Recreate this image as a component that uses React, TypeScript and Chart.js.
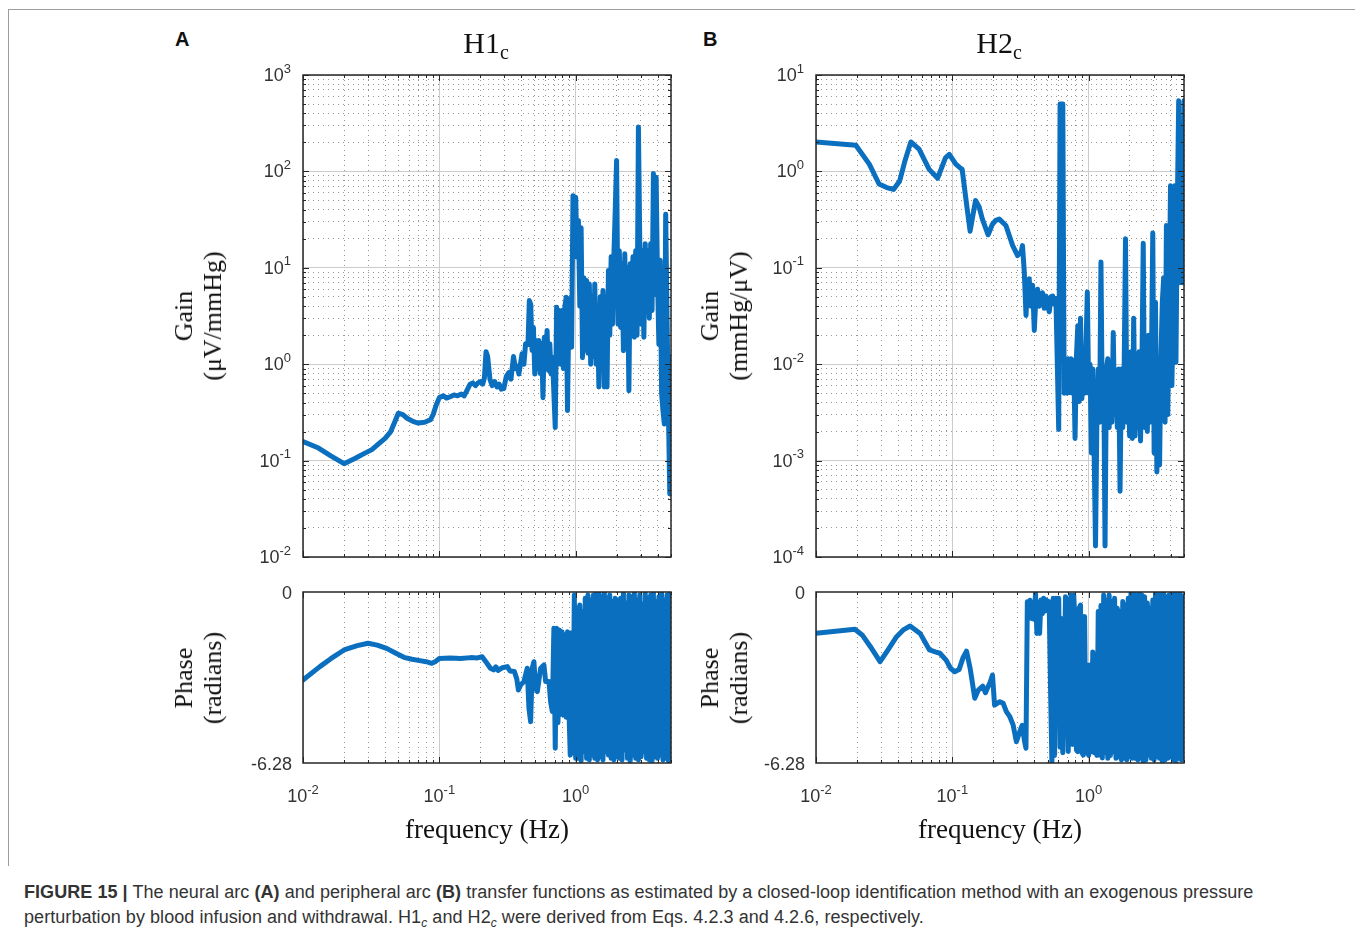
import React, { useEffect, useRef } from 'react';
import { Chart, registerables } from 'chart.js';

Chart.register(...registerables);

// ---------------- data ----------------
// Shared high-frequency grid (Hz) used by the noisy parts of all four curves
const freqGrid = [
  0.3467, 0.3548, 0.3631, 0.3715, 0.3802, 0.3890, 0.3981, 0.4074, 0.4169, 0.4266,
  0.4365, 0.4467, 0.4571, 0.4677, 0.4786, 0.4898, 0.5012, 0.5129, 0.5248, 0.5370,
  0.5495, 0.5623, 0.5754, 0.5888, 0.6026, 0.6166, 0.6310, 0.6457, 0.6607, 0.6761,
  0.6918, 0.7079, 0.7244, 0.7413, 0.7586, 0.7762, 0.7943, 0.8128, 0.8318, 0.8511,
  0.8710, 0.8913, 0.9120, 0.9333, 0.9550, 0.9772, 1.000, 1.023, 1.047, 1.072,
  1.096, 1.122, 1.148, 1.175, 1.202, 1.230, 1.259, 1.288, 1.318, 1.349,
  1.380, 1.413, 1.445, 1.479, 1.514, 1.549, 1.585, 1.622, 1.660, 1.698,
  1.738, 1.778, 1.820, 1.862, 1.905, 1.950, 1.995, 2.042, 2.089, 2.138,
  2.188, 2.239, 2.291, 2.344, 2.399, 2.455, 2.512, 2.570, 2.630, 2.692,
  2.754, 2.818, 2.884, 2.951, 3.020, 3.090, 3.162, 3.236, 3.311, 3.388,
  3.467, 3.548, 3.631, 3.715, 3.802, 3.890, 3.981, 4.074, 4.169, 4.266,
  4.365, 4.467, 4.571, 4.677, 4.786, 4.898, 5.000,
];

// Panel A, gain |H1c| (uV/mmHg): low-frequency part
const freqGainA = [
  0.010, 0.013, 0.016, 0.020, 0.024, 0.028, 0.032, 0.036, 0.040, 0.044,
  0.047, 0.050, 0.054, 0.058, 0.064, 0.070, 0.078, 0.086, 0.090, 0.095,
  0.100, 0.107, 0.113, 0.120, 0.128, 0.136, 0.145, 0.152, 0.160, 0.168,
  0.176, 0.184, 0.192, 0.200, 0.208, 0.214, 0.220, 0.226, 0.235, 0.244,
  0.255, 0.265, 0.275, 0.285, 0.297, 0.310, 0.323, 0.335, 0.350, 0.362,
  0.375, 0.383, 0.404, 0.417, 0.429,
];
const gainA = [
  0.158, 0.135, 0.112, 0.093, 0.105, 0.118, 0.130, 0.150, 0.170, 0.200,
  0.250, 0.310, 0.300, 0.275, 0.255, 0.245, 0.250, 0.265, 0.300, 0.380,
  0.450, 0.470, 0.445, 0.460, 0.480, 0.470, 0.490, 0.470, 0.540, 0.620,
  0.640, 0.600, 0.640, 0.660, 0.620, 0.720, 1.350, 1.200, 0.700, 0.600,
  0.660, 0.580, 0.620, 0.550, 0.560, 0.750, 0.820, 0.700, 1.200, 0.900,
  0.950, 0.790, 1.280, 1.000, 1.630,
];
// Panel A gain: noisy part on the last 106 grid frequencies (0.45 - 5 Hz)
const gainADense = [
  1.6, 4.57, 4.2, 1.39, 2.4, 0.79, 1.76, 0.9, 1.76, 0.8,
  1.63, 0.45, 1.9, 0.9, 2.24, 0.86, 1.63, 0.79, 1.18, 0.5,
  0.22, 3.9, 1.0, 3.6, 1.0, 3.6, 0.9, 3.9, 4.95, 0.33,
  4.2, 4.8, 1.5, 56, 13, 54, 12.9, 31, 4.0, 26,
  1.17, 7.9, 1.4, 7.4, 1.3, 6.8, 1.0, 5.0, 1.2, 6.8,
  1.0, 3.6, 0.58, 5.0, 1.0, 5.8, 0.58, 5.0, 0.58, 9.4,
  2.0, 13, 2.6, 13, 40, 130, 2.6, 15, 2.4, 11,
  1.38, 14, 1.8, 10, 0.53, 11, 2.4, 13, 1.9, 15,
  2.0, 288, 17.8, 2.6, 15, 1.9, 17.8, 3.6, 15, 3.0,
  17.8, 3.6, 95, 5.3, 87, 7.9, 1.6, 12, 0.5, 0.33,
  0.24, 36, 3.1, 0.33, 0.045, 1.2,
];

// Panel A, phase of H1c (radians): low-frequency part
const freqPhaseA = [
  0.010, 0.0133, 0.016, 0.020, 0.025, 0.030, 0.035, 0.041, 0.048, 0.055,
  0.063, 0.072, 0.080, 0.088, 0.094, 0.100, 0.120, 0.143, 0.170, 0.190,
  0.206, 0.222, 0.237, 0.250, 0.260, 0.270, 0.290, 0.315, 0.330, 0.355,
  0.370, 0.380, 0.394, 0.417, 0.441, 0.454, 0.467, 0.480, 0.494, 0.508,
  0.523, 0.553, 0.585, 0.602, 0.637, 0.655, 0.674,
];
const phaseA = [
  -3.23, -2.74, -2.45, -2.13, -1.97, -1.88, -1.95, -2.07, -2.25, -2.40,
  -2.47, -2.52, -2.56, -2.62, -2.55, -2.44, -2.42, -2.44, -2.41, -2.42,
  -2.38, -2.60, -2.80, -2.86, -2.75, -2.88, -2.78, -2.74, -2.90, -2.92,
  -3.20, -3.60, -3.42, -3.29, -2.80, -4.27, -4.76, -2.80, -2.56, -3.54,
  -3.66, -2.80, -2.68, -3.29, -3.29, -4.03, -4.39,
];
// Panel A phase: noisy part on the last 87 grid frequencies (0.69 - 5 Hz)
const phaseADense = [
  -1.33, -5.74, -1.33, -4.80, -1.40, -4.50, -1.46, -4.52, -1.58, -4.60,
  -1.46, -4.27, -5.99, -1.50, -5.90, -0.11, -6.11, -0.60, -6.11, -0.48,
  -6.20, -0.72, -5.87, -0.23, -6.11, -0.11, -6.17, -0.29, -5.99, -0.11,
  -6.11, -0.05, -6.17, -0.02, -6.05, -0.17, -6.17, -0.05, -5.87, -0.23,
  -5.99, -0.11, -6.11, -0.35, -6.17, -0.23, -6.05, -0.29, -6.11, -0.23,
  -6.17, -0.05, -5.80, -0.40, -6.11, -0.11, -6.23, -0.17, -5.99, -0.02,
  -6.11, -0.29, -6.17, -0.11, -6.05, -0.45, -5.87, -0.05, -6.11, -0.23,
  -6.17, -0.11, -6.23, -0.02, -6.05, -0.35, -6.11, -0.17, -5.99, -0.05,
  -6.17, -0.29, -6.11, -0.11, -6.20, -0.05, -2.60,
];

// Panel B, gain |H2c| (mmHg/uV): low-frequency part
const freqGainB = [
  0.010, 0.0196, 0.0246, 0.029, 0.033, 0.037, 0.041, 0.045, 0.0496, 0.057,
  0.0676, 0.078, 0.089, 0.095, 0.106, 0.113, 0.118, 0.129, 0.135, 0.148,
  0.157, 0.166, 0.183, 0.196, 0.208, 0.221, 0.247, 0.277, 0.301, 0.319,
  0.327, 0.337, 0.347, 0.356, 0.366, 0.377, 0.388, 0.399, 0.410, 0.422,
  0.434, 0.446, 0.458, 0.472, 0.486, 0.500, 0.514, 0.529, 0.544, 0.560,
  0.575,
];
const gainB = [
  2.02, 1.87, 1.19, 0.74, 0.68, 0.65, 0.79, 1.30, 2.02, 1.70,
  1.05, 0.85, 1.38, 1.50, 1.19, 1.10, 1.05, 0.39, 0.24, 0.50,
  0.43, 0.32, 0.22, 0.28, 0.31, 0.32, 0.275, 0.17, 0.134, 0.145,
  0.17, 0.09, 0.032, 0.07, 0.077, 0.04, 0.066, 0.0224, 0.05, 0.06,
  0.04, 0.044, 0.055, 0.038, 0.051, 0.04, 0.035, 0.05, 0.051, 0.042,
  0.048,
];
// Panel B gain: noisy part on the last 93 grid frequencies (0.60 - 5 Hz)
const gainBDense = [
  0.0021, 5.0, 5.0, 5.0, 0.005, 0.0114, 0.005, 0.0114, 0.0051, 0.0114,
  0.005, 0.011, 0.0017, 0.012, 0.025, 0.0041, 0.030, 0.0044, 0.012, 0.005,
  0.015, 0.056, 0.005, 0.010, 0.0012, 0.0089, 0.00123, 0.00013, 0.0025, 0.0089,
  0.0025, 0.115, 0.003, 0.0089, 0.00013, 0.0089, 0.0114, 0.0022, 0.0089, 0.0025,
  0.0213, 0.0030, 0.0083, 0.0022, 0.0089, 0.00048, 0.0089, 0.0022, 0.0089, 0.20,
  0.0025, 0.0089, 0.0018, 0.0135, 0.0017, 0.030, 0.0018, 0.0089, 0.0022, 0.0135,
  0.0016, 0.0089, 0.18, 0.0022, 0.0135, 0.0020, 0.02, 0.0025, 0.010, 0.23,
  0.0012, 0.044, 0.00076, 0.010, 0.0009, 0.012, 0.044, 0.079, 0.0025, 0.275,
  0.0030, 0.035, 0.71, 0.0060, 0.035, 0.71, 0.0105, 0.42, 5.4, 0.07,
  1.58, 0.07, 5.4,
];

// Panel B, phase of H2c (radians): low-frequency part
const freqPhaseB = [
  0.010, 0.0193, 0.022, 0.025, 0.0295, 0.033, 0.039, 0.044, 0.049, 0.058,
  0.068, 0.075, 0.081, 0.090, 0.097, 0.104, 0.112, 0.120, 0.127, 0.135,
  0.146, 0.155, 0.167, 0.175, 0.182, 0.190, 0.197, 0.204, 0.223, 0.236,
  0.249, 0.264, 0.279, 0.295, 0.312, 0.325, 0.339,
];
const phaseB = [
  -1.52, -1.37, -1.60, -2.00, -2.56, -2.20, -1.64, -1.38, -1.25, -1.52,
  -2.13, -2.20, -2.25, -2.50, -2.80, -2.93, -2.85, -2.40, -2.17, -2.80,
  -3.90, -3.60, -3.46, -3.70, -3.50, -3.30, -3.05, -4.15, -4.03, -4.09,
  -4.39, -4.58, -4.88, -5.50, -5.13, -4.90, -5.50,
];
// Panel B phase: noisy part on all 117 grid frequencies (0.35 - 5 Hz)
const phaseBDense = [
  -5.74, -0.36, -0.60, -0.30, -0.97, -0.40, -1.00, -0.05, -1.52, -0.40,
  -1.52, -0.29, -0.80, -0.23, -0.70, -0.29, -0.60, -0.36, -3.50, -6.23,
  -0.23, -6.00, -0.23, -1.20, -0.23, -5.70, -0.97, -5.90, -3.05, -0.17,
  -0.36, -5.86, -1.20, -0.11, -5.60, -0.11, -1.09, -5.80, -5.86, -0.60,
  -0.48, -5.90, -5.99, -0.90, -5.90, -2.68, -6.00, -2.68, -5.86, -2.20,
  -5.90, -2.56, -6.00, -0.72, -5.99, -0.50, -6.10, -0.11, -5.90, -0.30,
  -6.11, -0.11, -6.00, -0.35, -5.87, -0.23, -6.11, -0.60, -6.05, -0.72,
  -6.17, -0.35, -6.11, -0.48, -6.17, -0.23, -6.05, -0.05, -6.11, -0.02,
  -6.11, -0.11, -6.17, -0.05, -6.11, -0.11, -6.23, -0.17, -6.17, -0.40,
  -5.99, -0.60, -6.11, -0.29, -6.17, -0.05, -6.05, -0.11, -6.11, -0.02,
  -6.23, -0.05, -6.17, -0.17, -6.11, -0.11, -6.05, -0.02, -6.17, -0.05,
  -6.23, -0.11, -6.11, -0.02, -6.17, -0.17, -5.87,
];

// axis tick definitions
const freqRange = [0.01, 5];
const freqDecades = [-2, -1, 0];
const gainARange = [0.01, 1000];
const gainADecades = [-2, -1, 0, 1, 2, 3];
const gainBRange = [0.0001, 10];
const gainBDecades = [-4, -3, -2, -1, 0, 1];
const phaseRange = [-6.28, 0];
const phaseTickValues = [0, -6.28];

// ---------------- styling ----------------
const LINE_BLUE = '#0b6fbf';
const SANS = '"Liberation Sans", Arial, Helvetica, sans-serif';
const SERIF = '"Liberation Serif", "Times New Roman", Times, serif';
const MAJOR_GRID = '#cccccc';
const MINOR_GRID = '#959595';
const BASE_FONT = `18px ${SANS}`;
const EXP_FONT = `13px ${SANS}`;
const LABEL_COLOR = '#333333';

function buildPoints(f: number[], v: number[], dense: number[]) {
  const denseF = freqGrid.slice(freqGrid.length - dense.length);
  return [
    ...f.map((x, i) => ({ x, y: v[i] })),
    ...denseF.map((x, i) => ({ x, y: dense[i] })),
  ];
}

function logTicks(min: number, max: number) {
  const out: { value: number; major: boolean }[] = [];
  const e0 = Math.floor(Math.log10(min));
  const e1 = Math.ceil(Math.log10(max));
  for (let e = e0; e <= e1; e++) {
    for (let m = 1; m <= 9; m++) {
      const v = Number((m * Math.pow(10, e)).toPrecision(4));
      if (v >= min * 0.9999 && v <= max * 1.0001) out.push({ value: v, major: m === 1 });
    }
  }
  return out;
}

function drawPow(ctx: CanvasRenderingContext2D, exp: number, x: number, y: number, align: 'right' | 'center') {
  const base = '10';
  const ex = String(exp);
  ctx.font = BASE_FONT;
  const w1 = ctx.measureText(base).width;
  ctx.font = EXP_FONT;
  const w2 = ctx.measureText(ex).width;
  const total = w1 + w2;
  const left = align === 'right' ? x - total : x - total / 2;
  ctx.textAlign = 'left';
  ctx.textBaseline = 'middle';
  ctx.font = BASE_FONT;
  ctx.fillText(base, left, y + 1);
  ctx.font = EXP_FONT;
  ctx.fillText(ex, left + w1, y - 6);
}

const matlabAxes = {
  id: 'matlabAxes',
  afterDraw(chart: any, _args: any, opts: any) {
    const { ctx, chartArea: a, scales } = chart;
    const xs = scales.x;
    const ys = scales.y;
    ctx.save();
    ctx.strokeStyle = '#262626';
    ctx.lineWidth = 1;
    ctx.beginPath();
    for (const t of xs.ticks) {
      const p = Math.round(xs.getPixelForValue(t.value)) + 0.5;
      const len = t.major ? 6 : 3;
      ctx.moveTo(p, a.bottom);
      ctx.lineTo(p, a.bottom - len);
      ctx.moveTo(p, a.top);
      ctx.lineTo(p, a.top + len);
    }
    if (opts.yLog) {
      for (const t of ys.ticks) {
        const p = Math.round(ys.getPixelForValue(t.value)) + 0.5;
        const len = t.major ? 6 : 3;
        ctx.moveTo(a.left, p);
        ctx.lineTo(a.left + len, p);
        ctx.moveTo(a.right, p);
        ctx.lineTo(a.right - len, p);
      }
    }
    ctx.stroke();
    ctx.lineWidth = 1.5;
    ctx.strokeRect(a.left, a.top, a.right - a.left, a.bottom - a.top);
    ctx.fillStyle = LABEL_COLOR;
    if (opts.yDecades) {
      for (const e of opts.yDecades) {
        drawPow(ctx, e, a.left - 12, ys.getPixelForValue(Math.pow(10, e)), 'right');
      }
    }
    if (opts.yValues) {
      ctx.font = BASE_FONT;
      ctx.textAlign = 'right';
      ctx.textBaseline = 'middle';
      for (const v of opts.yValues) {
        ctx.fillText(v === 0 ? '0' : v.toFixed(2), a.left - 11, ys.getPixelForValue(v) + 2);
      }
    }
    if (opts.xDecades) {
      for (const e of opts.xDecades) {
        drawPow(ctx, e, xs.getPixelForValue(Math.pow(10, e)), a.bottom + 33, 'center');
      }
    }
    ctx.restore();
  },
};

type Spec = {
  left: number;
  top: number;
  w: number;
  h: number;
  pad: { left: number; top: number; right: number; bottom: number };
  points: { x: number; y: number }[];
  yLog: boolean;
  yRange: number[];
  yDecades?: number[];
  yValues?: number[];
  xDecades?: number[];
};

const gridColor = (c: any) => (c.tick && c.tick.major ? MAJOR_GRID : MINOR_GRID);
const gridDash = (c: any) => (c.tick && !c.tick.major ? [1, 4] : []);

function buildConfig(s: Spec): any {
  const xScale: any = {
    type: 'logarithmic',
    min: freqRange[0],
    max: freqRange[1],
    afterBuildTicks: (sc: any) => {
      sc.ticks = logTicks(freqRange[0], freqRange[1]);
    },
    afterFit: (sc: any) => {
      sc.height = 0;
    },
    ticks: { display: false },
    grid: { drawTicks: false, color: gridColor, lineWidth: 1 },
    border: { display: false, dash: gridDash },
  };
  const yScale: any = s.yLog
    ? {
        type: 'logarithmic',
        min: s.yRange[0],
        max: s.yRange[1],
        afterBuildTicks: (sc: any) => {
          sc.ticks = logTicks(s.yRange[0], s.yRange[1]);
        },
        afterFit: (sc: any) => {
          sc.width = 0;
        },
        ticks: { display: false },
        grid: { drawTicks: false, color: gridColor, lineWidth: 1 },
        border: { display: false, dash: gridDash },
      }
    : {
        type: 'linear',
        min: s.yRange[0],
        max: s.yRange[1],
        afterFit: (sc: any) => {
          sc.width = 0;
        },
        ticks: { display: false },
        grid: { display: false },
        border: { display: false },
      };
  return {
    type: 'line',
    data: {
      datasets: [
        {
          data: s.points,
          borderColor: LINE_BLUE,
          borderWidth: 5,
          pointRadius: 0,
          tension: 0,
          fill: false,
          borderJoinStyle: 'round',
          borderCapStyle: 'round',
        },
      ],
    },
    options: {
      responsive: false,
      maintainAspectRatio: false,
      animation: false,
      events: [],
      layout: { padding: s.pad },
      plugins: {
        legend: { display: false },
        tooltip: { enabled: false },
        title: { display: false },
        matlabAxes: { yLog: s.yLog, yDecades: s.yDecades, yValues: s.yValues, xDecades: s.xDecades },
      },
      scales: { x: xScale, y: yScale },
    },
    plugins: [matlabAxes],
  };
}

function Plot({ spec }: { spec: Spec }) {
  const ref = useRef<HTMLCanvasElement>(null);
  useEffect(() => {
    const chart = new Chart(ref.current as HTMLCanvasElement, buildConfig(spec));
    return () => chart.destroy();
  }, []);
  return (
    <canvas
      ref={ref}
      width={spec.w}
      height={spec.h}
      style={{ position: 'absolute', left: spec.left, top: spec.top, width: spec.w, height: spec.h }}
    />
  );
}

const specs: Spec[] = [
  {
    left: 150, top: 60, w: 540, h: 520,
    pad: { left: 153, top: 15, right: 19, bottom: 23 },
    points: buildPoints(freqGainA, gainA, gainADense),
    yLog: true, yRange: gainARange, yDecades: gainADecades,
  },
  {
    left: 150, top: 580, w: 540, h: 270,
    pad: { left: 153, top: 12, right: 19, bottom: 87 },
    points: buildPoints(freqPhaseA, phaseA, phaseADense),
    yLog: false, yRange: phaseRange, yValues: phaseTickValues, xDecades: freqDecades,
  },
  {
    left: 690, top: 60, w: 520, h: 520,
    pad: { left: 126, top: 15, right: 26, bottom: 23 },
    points: buildPoints(freqGainB, gainB, gainBDense),
    yLog: true, yRange: gainBRange, yDecades: gainBDecades,
  },
  {
    left: 690, top: 580, w: 520, h: 270,
    pad: { left: 126, top: 12, right: 26, bottom: 87 },
    points: buildPoints(freqPhaseB, phaseB, phaseBDense),
    yLog: false, yRange: phaseRange, yValues: phaseTickValues, xDecades: freqDecades,
  },
];

function RotLabel({ x, y, lines }: { x: number; y: number; lines: string[] }) {
  return (
    <div
      style={{
        position: 'absolute',
        left: x,
        top: y,
        transform: 'translate(-50%, -50%) rotate(-90deg)',
        font: `26px ${SERIF}`,
        lineHeight: '29px',
        textAlign: 'center',
        whiteSpace: 'nowrap',
        color: '#111',
      }}
    >
      {lines.map((l) => (
        <div key={l}>{l}</div>
      ))}
    </div>
  );
}

function Title({ x, main, sub }: { x: number; main: string; sub: string }) {
  return (
    <div
      style={{
        position: 'absolute',
        left: x,
        top: 28,
        transform: 'translateX(-50%)',
        font: `30px ${SERIF}`,
        lineHeight: '30px',
        whiteSpace: 'nowrap',
        color: '#111',
      }}
    >
      {main}
      <span style={{ fontSize: 20, position: 'relative', top: 6 }}>{sub}</span>
    </div>
  );
}

function XLabel({ x }: { x: number }) {
  return (
    <div
      style={{
        position: 'absolute',
        left: x,
        top: 816,
        transform: 'translateX(-50%)',
        font: `27px ${SERIF}`,
        lineHeight: '27px',
        whiteSpace: 'nowrap',
        color: '#111',
      }}
    >
      frequency (Hz)
    </div>
  );
}

const subStyle: React.CSSProperties = {
  fontSize: 12,
  fontStyle: 'italic',
  verticalAlign: 'baseline',
  position: 'relative',
  top: 4,
  lineHeight: 0,
};

export default function App() {
  return (
    <div
      style={{
        position: 'absolute',
        left: 0,
        top: 0,
        width: 1355,
        height: 934,
        overflow: 'hidden',
        background: '#fff',
      }}
    >
      <div
        style={{
          position: 'absolute',
          left: 8,
          top: 9,
          width: 1347,
          height: 857,
          borderLeft: '1px solid #9c9c9c',
          borderTop: '1px solid #9c9c9c',
          boxSizing: 'border-box',
        }}
      />
      {specs.map((s, i) => (
        <Plot key={i} spec={s} />
      ))}
      <div style={{ position: 'absolute', left: 175, top: 29, font: `bold 20px ${SANS}`, lineHeight: '20px', color: '#111' }}>A</div>
      <div style={{ position: 'absolute', left: 703, top: 29, font: `bold 20px ${SANS}`, lineHeight: '20px', color: '#111' }}>B</div>
      <Title x={486} main="H1" sub="c" />
      <Title x={999} main="H2" sub="c" />
      <RotLabel x={197.5} y={315.5} lines={['Gain', '(μV/mmHg)']} />
      <RotLabel x={723.5} y={315.5} lines={['Gain', '(mmHg/μV)']} />
      <RotLabel x={197.5} y={677.5} lines={['Phase', '(radians)']} />
      <RotLabel x={723.5} y={677.5} lines={['Phase', '(radians)']} />
      <XLabel x={487} />
      <XLabel x={1000} />
      <div
        style={{
          position: 'absolute',
          left: 24,
          top: 880,
          font: `18px ${SANS}`,
          letterSpacing: '0.06px',
          lineHeight: '25px',
          color: '#333',
          whiteSpace: 'nowrap',
        }}
      >
        <div>
          <b>FIGURE 15 |</b> The neural arc <b>(A)</b> and peripheral arc <b>(B)</b> transfer functions as estimated by a
          closed-loop identification method with an exogenous pressure
        </div>
        <div>
          perturbation by blood infusion and withdrawal. H1<span style={subStyle}>c</span> and H2
          <span style={subStyle}>c</span> were derived from Eqs. 4.2.3 and 4.2.6, respectively.
        </div>
      </div>
    </div>
  );
}
